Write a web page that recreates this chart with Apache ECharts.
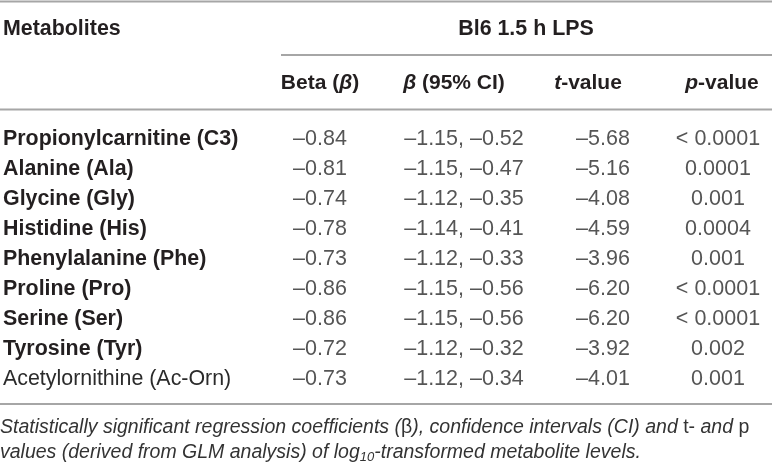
<!DOCTYPE html>
<html>
<head>
<meta charset="utf-8">
<script src="https://cdn.jsdelivr.net/npm/echarts@6/dist/echarts.min.js"></script>
<style>
  html, body { margin: 0; padding: 0; background: #fff; }
  #main { width: 772px; height: 466px; }
</style>
</head>
<body>
<div id="main"></div>
<script>
// table data
const metabolites = [
  'Propionylcarnitine (C3)', 'Alanine (Ala)', 'Glycine (Gly)', 'Histidine (His)',
  'Phenylalanine (Phe)', 'Proline (Pro)', 'Serine (Ser)', 'Tyrosine (Tyr)',
  'Acetylornithine (Ac-Orn)'
]
const columns = ['Beta (β)', 'β (95% CI)', 't-value', 'p-value']
const beta = [-0.84, -0.81, -0.74, -0.78, -0.73, -0.86, -0.86, -0.72, -0.73]
const ciLow = [-1.15, -1.15, -1.12, -1.14, -1.12, -1.15, -1.15, -1.12, -1.12]
const ciHigh = [-0.52, -0.47, -0.35, -0.41, -0.33, -0.56, -0.56, -0.32, -0.34]
const tValue = [-5.68, -5.16, -4.08, -4.59, -3.96, -6.20, -6.20, -3.92, -4.01]
const pValue = ['< 0.0001', '0.0001', '0.001', '0.0004', '0.001', '< 0.0001', '< 0.0001', '0.002', '0.001']

const groupTitle = 'Bl6 1.5 h LPS'
const rowTitle = 'Metabolites'

// rows not set in bold in the source table
const plainRows = ['Acetylornithine (Ac-Orn)']

const FONT = 'Liberation Sans, Arial, sans-serif'
const INK = '#231f20'
const TEXT = '#2b2b2b'
const RULE = '#a6a6a6'
// small horizontal nudges so body cells sit like the printed table
const cellNudge = [0, 10, 15, -4]

const fmt = v => (v < 0 ? '–' : '') + Math.abs(v).toFixed(2)

const cells = []
metabolites.forEach((m, i) => {
  const row = [
    fmt(beta[i]),
    fmt(ciLow[i]) + ', ' + fmt(ciHigh[i]),
    fmt(tValue[i]),
    pValue[i]
  ]
  row.forEach((txt, c) => {
    cells.push({ value: [columns[c], m, txt], label: { offset: [cellNudge[c], 0] } })
  })
})

// italic greek / t / p in the column headers
function headerRich(name) {
  if (name === 't-value' || name === 'p-value') return '{i|' + name[0] + '}{n|' + name.slice(1) + '}'
  return name.split('β').map(s => s ? '{n|' + s + '}' : '').join('{i|β}')
}

const chart = echarts.init(document.getElementById('main'))

chart.setOption({
  animation: false,
  backgroundColor: '#fff',
  grid: { left: 320, right: 50, top: 124, bottom: 72 },
  xAxis: {
    type: 'category',
    data: columns,
    boundaryGap: false,
    position: 'top',
    axisLine: { show: false },
    axisTick: { show: false },
    splitLine: { show: false },
    axisLabel: {
      interval: 0,
      margin: 30,
      formatter: headerRich,
      rich: {
        n: { fontFamily: FONT, fontSize: 21, fontWeight: 'bold', color: INK },
        i: { fontFamily: FONT, fontSize: 21, fontWeight: 'bold', fontStyle: 'italic', color: INK }
      }
    }
  },
  yAxis: {
    type: 'category',
    data: metabolites,
    inverse: true,
    axisLine: { show: false },
    axisTick: { show: false },
    splitLine: { show: false },
    axisLabel: {
      interval: 0,
      align: 'left',
      margin: 317,
      formatter: v => (plainRows.includes(v) ? '{r|' : '{b|') + v + '}',
      rich: {
        b: { fontFamily: FONT, fontSize: 21.4, fontWeight: 'bold', color: INK },
        r: { fontFamily: FONT, fontSize: 21.4, color: TEXT }
      }
    }
  },
  series: [{
    type: 'scatter',
    data: cells,
    symbolSize: 0,
    silent: true,
    label: {
      show: true,
      position: 'inside',
      formatter: p => p.value[2],
      fontFamily: FONT,
      fontSize: 21.5,
      color: TEXT
    }
  }],
  graphic: [
    { type: 'line', shape: { x1: 0, y1: 1.5, x2: 772, y2: 1.5 }, style: { stroke: RULE, lineWidth: 2 } },
    { type: 'line', shape: { x1: 281, y1: 55, x2: 772, y2: 55 }, style: { stroke: RULE, lineWidth: 2 } },
    { type: 'line', shape: { x1: 0, y1: 109.5, x2: 772, y2: 109.5 }, style: { stroke: RULE, lineWidth: 2 } },
    { type: 'line', shape: { x1: 0, y1: 404, x2: 772, y2: 404 }, style: { stroke: RULE, lineWidth: 2 } },
    {
      type: 'text', x: 3, y: 29,
      style: { text: rowTitle, font: 'bold 21.4px ' + FONT, fill: INK, verticalAlign: 'middle' }
    },
    {
      type: 'text', x: 526, y: 29,
      style: { text: groupTitle, font: 'bold 21.4px ' + FONT, fill: INK, align: 'center', verticalAlign: 'middle' }
    },
    {
      type: 'text', x: 0, y: 415,
      style: {
        text: '{i|Statistically significant regression coefficients (}{n|β}{i|), confidence intervals (CI) and }{n|t-}{i| and }{n|p}\n' +
              '{i|values (derived from GLM analysis) of log}{s|10}{i|-transformed metabolite levels.}',
        rich: {
          i: { fontFamily: FONT, fontSize: 19.5, fontStyle: 'italic', fill: '#333', lineHeight: 25 },
          n: { fontFamily: FONT, fontSize: 19.5, fill: '#333', lineHeight: 25 },
          s: { fontFamily: FONT, fontSize: 13, fontStyle: 'italic', fill: '#333', lineHeight: 25, padding: [10, 0, 0, 0] }
        }
      }
    }
  ]
})
</script>
</body>
</html>
